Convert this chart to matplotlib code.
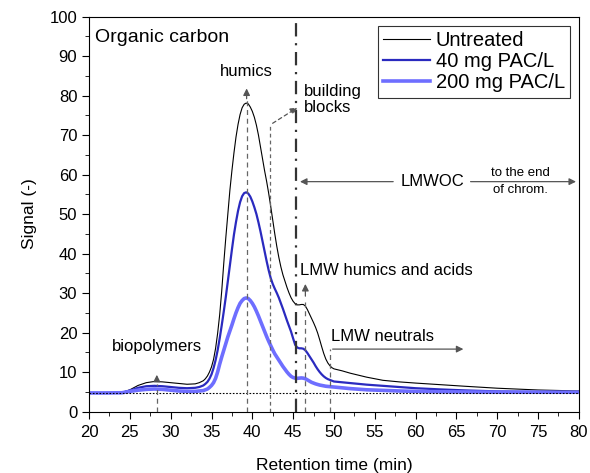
import matplotlib
matplotlib.use("Agg")
import matplotlib.pyplot as plt
from matplotlib.ticker import MultipleLocator

plt.rcParams['font.family'] = ['Liberation Sans', 'DejaVu Sans']

time_min = [20, 22, 24, 25, 26, 27, 28, 29, 30, 31, 32, 33, 33.5, 34,
            34.25, 34.5, 34.75, 35, 35.25, 35.5, 35.75, 36, 36.25, 36.5, 36.75,
            37, 37.25, 37.5, 37.75, 38, 38.25, 38.5, 38.75, 39, 39.25, 39.5, 39.75,
            40, 40.25, 40.5, 40.75, 41, 41.25, 41.5, 41.75, 42, 42.25, 42.5, 42.75,
            43, 43.25, 43.5, 43.75, 44, 44.25, 44.5, 44.75, 45, 45.25, 45.5, 45.75,
            46, 46.25, 46.5, 46.75, 47, 47.25, 47.5, 47.75, 48, 48.25, 48.5, 48.75,
            49, 49.25, 49.5, 49.75, 50,
            51, 52, 53, 54, 56, 58, 60, 63, 66, 70, 75, 80]

untreated = [4.7, 4.7, 4.8, 5.5, 6.6, 7.3, 7.6, 7.5, 7.3, 7.1, 6.9, 7.0, 7.3, 7.8,
             8.3, 9.0, 10.0, 11.3, 13.2, 16.0, 19.8, 24.5, 30.5, 37.5, 44.0,
             50.0, 56.0, 61.0, 65.5, 69.5, 72.7, 75.2, 76.9, 77.8, 78.1, 77.9, 77.1,
             76.0, 74.5, 72.5, 70.0, 67.0, 64.0, 61.0, 58.3, 55.3, 52.0, 48.5, 45.0,
             41.8, 39.0, 36.6, 34.6, 33.0, 31.4, 30.0, 28.8, 27.9, 27.3, 27.0, 27.0,
             27.1, 27.1, 26.7, 25.8, 24.7, 23.6, 22.5, 21.3, 19.9, 18.2, 16.4, 14.7,
             13.3, 12.3, 11.6, 11.1, 10.8,
             10.3, 9.7, 9.2, 8.7, 7.9, 7.5, 7.2, 6.8, 6.4, 5.9, 5.45, 5.2]

pac_40 = [4.7, 4.7, 4.75, 5.3, 6.0, 6.4, 6.5, 6.4, 6.2, 6.0, 5.9, 6.0, 6.2, 6.6,
          7.0, 7.5, 8.3, 9.4, 11.0, 13.0, 15.5, 18.5, 21.8, 25.3, 29.0,
          33.0, 37.0, 41.0, 44.8, 48.0, 50.8, 53.0, 54.5, 55.3, 55.5, 55.2, 54.4,
          53.2, 51.7, 50.0, 47.9, 45.6, 43.1, 40.6, 38.1, 35.8, 33.8, 32.3, 31.1,
          30.0, 28.8, 27.4, 26.0, 24.5, 23.0, 21.6, 20.2, 18.5, 16.9, 16.2, 16.0,
          16.0, 15.9, 15.5, 14.8, 14.0, 13.2, 12.4, 11.5, 10.7, 10.0, 9.4, 8.9,
          8.5, 8.2, 8.0, 7.8, 7.6,
          7.4, 7.2, 7.0, 6.8, 6.5, 6.2, 5.9, 5.6, 5.35, 5.1, 4.95, 4.9]

pac_200 = [4.7, 4.7, 4.75, 5.1, 5.4, 5.6, 5.7, 5.6, 5.4, 5.2, 5.1, 5.1, 5.2, 5.3,
           5.5, 5.7, 6.1, 6.6, 7.3, 8.4, 10.0, 12.0, 13.8, 15.5, 17.2,
           18.9, 20.4, 21.9, 23.5, 25.0, 26.3, 27.4, 28.1, 28.6, 28.75, 28.6, 28.1,
           27.4, 26.5, 25.4, 24.2, 22.9, 21.6, 20.3, 19.0, 17.8, 16.7, 15.6, 14.6,
           13.8, 13.0, 12.2, 11.4, 10.7, 10.0, 9.4, 8.9, 8.6, 8.45, 8.4, 8.45,
           8.5, 8.45, 8.3, 8.0, 7.7, 7.4, 7.2, 7.0, 6.85, 6.7, 6.6, 6.5,
           6.4, 6.35, 6.3, 6.25, 6.2,
           6.0, 5.8, 5.65, 5.5, 5.35, 5.2, 5.1, 5.0, 4.95, 4.9, 4.9, 4.9]

baseline = 4.6

fig = plt.figure(figsize=(5.9, 4.73), dpi=100)
ax = fig.add_axes([0.151, 0.130, 0.830, 0.835])

ax.plot(time_min, untreated, color="black", linewidth=0.8, label="Untreated")
ax.plot(time_min, pac_40, color="#2a2abf", linewidth=1.6, label="40 mg PAC/L")
ax.plot(time_min, pac_200, color="#6e6eff", linewidth=2.6, label="200 mg PAC/L")

# ligne de base
ax.axhline(baseline, color="black", linestyle=(0, (1.5, 1.5)), linewidth=0.8)

grey = "#555555"
fs = 12
guide = dict(color="#666666", linestyle=(0, (4, 3)), linewidth=0.9)
arrow = dict(arrowstyle="-|>", color=grey, linewidth=0.9, mutation_scale=10)

# biopolymères
ax.plot([28.3, 28.3], [0, 7], **guide)
ax.annotate("", xy=(28.3, 10), xytext=(28.3, 7.2), arrowprops=arrow)
ax.text(28.3, 16.4, "biopolymers", ha="center", va="center", fontsize=fs)

# humiques
ax.plot([39.3, 39.3], [0, 79], **guide)
ax.annotate("", xy=(39.3, 82.5), xytext=(39.3, 78.5), arrowprops=arrow)
ax.text(39.3, 86.2, "humics", ha="center", va="center", fontsize=fs)

# building blocks
ax.plot([42.2, 42.2], [0, 72.6], color="#666666", linestyle=(0, (3, 2.5)), linewidth=0.9)
ax.annotate("", xy=(45.8, 77.3), xytext=(42.2, 72.6),
            arrowprops=dict(arrowstyle="-|>", color=grey, linewidth=0.9,
                            linestyle=(0, (3, 2.5)), mutation_scale=10))
ax.text(46.3, 79.0, "building\nblocks", ha="left", va="center", fontsize=fs,
        linespacing=1.15)

# limite LMWOC
ax.plot([45.4, 45.4], [0, 100], color="#333333", linewidth=1.6,
        linestyle=(0, (6, 3, 1, 3)))

# LMW humiques
ax.plot([46.5, 46.5], [0, 28], **guide)
ax.annotate("", xy=(46.5, 33.0), xytext=(46.5, 28.5), arrowprops=arrow)
ax.text(45.9, 35.6, "LMW humics and acids", ha="left", va="center", fontsize=fs)

# LMW neutres
ax.plot([49.5, 49.5], [0, 15.8], **guide)
ax.annotate("", xy=(66.2, 15.8), xytext=(49.5, 15.8), arrowprops=arrow)
ax.text(49.7, 18.9, "LMW neutrals", ha="left", va="center", fontsize=fs)

# LMWOC
ax.annotate("", xy=(45.5, 58.2), xytext=(57.6, 58.2), arrowprops=arrow)
ax.annotate("", xy=(80, 58.2), xytext=(66.4, 58.2), arrowprops=arrow)
ax.text(62.1, 58.2, "LMWOC", ha="center", va="center", fontsize=fs)
ax.text(72.8, 60.5, "to the end", ha="center", va="center", fontsize=9.5)
ax.text(72.8, 56.0, "of chrom.", ha="center", va="center", fontsize=9.5)

ax.text(20.7, 94.6, "Organic carbon", ha="left", va="center", fontsize=14)

ax.set_xlim(20, 80)
ax.set_ylim(0, 100)
ax.xaxis.set_major_locator(MultipleLocator(5))
ax.xaxis.set_minor_locator(MultipleLocator(2.5))
ax.yaxis.set_major_locator(MultipleLocator(10))
ax.yaxis.set_minor_locator(MultipleLocator(5))
ax.tick_params(which="both", direction="out", labelsize=12)
ax.tick_params(axis="x", pad=5)
ax.tick_params(which="major", length=5)
ax.tick_params(which="minor", length=3)
ax.set_xlabel("Retention time (min)", fontsize=12.5, labelpad=13)
ax.set_ylabel("Signal (-)", fontsize=12.5, labelpad=9)

leg = ax.legend(loc="upper right", fontsize=14.5, frameon=True, fancybox=False,
                edgecolor="black", handlelength=2.3, handletextpad=0.3,
                borderpad=0.25, labelspacing=0.12, borderaxespad=0.45)
leg.get_frame().set_linewidth(0.8)

plt.savefig("out.png", dpi=100)
